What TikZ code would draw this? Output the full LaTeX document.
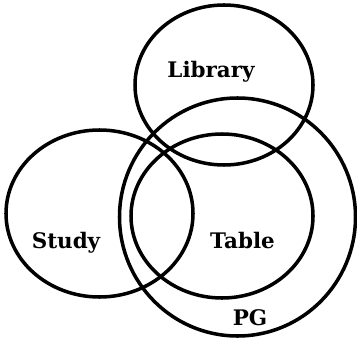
\documentclass[tikz,border=0pt]{standalone}
\usepackage{fontspec}
\setmainfont{DejaVu Serif}
\usetikzlibrary{positioning}

\begin{document}
\begin{tikzpicture}[
    x=0.02cm, y=-0.02cm,
    setring/.style={draw, black, line width=2pt},
    setlabel/.style={anchor=base, inner sep=0pt, font=\bfseries\fontsize{12.2}{14}\selectfont}
]
\useasboundingbox (0,0) rectangle (357,337);

% ==========================================
% Sets
% ==========================================
\draw[setring] (224,85) ellipse [x radius=89, y radius=80];     % Library
\draw[setring] (99.5,213.5) ellipse [x radius=93.5, y radius=83.5]; % Study
\draw[setring] (222,216) ellipse [x radius=91, y radius=82];    % Table
\draw[setring] (237.5,217) ellipse [x radius=118, y radius=119]; % PG

% ==========================================
% Labels
% ==========================================
\node[setlabel] (library) at (211,78) {Library};
\node[setlabel] (study) at (66,248) {Study};
\node[setlabel] (table) at (242.5,248) {Table};
\node[setlabel] (pg) at (250,325) {PG};

\end{tikzpicture}
\end{document}
